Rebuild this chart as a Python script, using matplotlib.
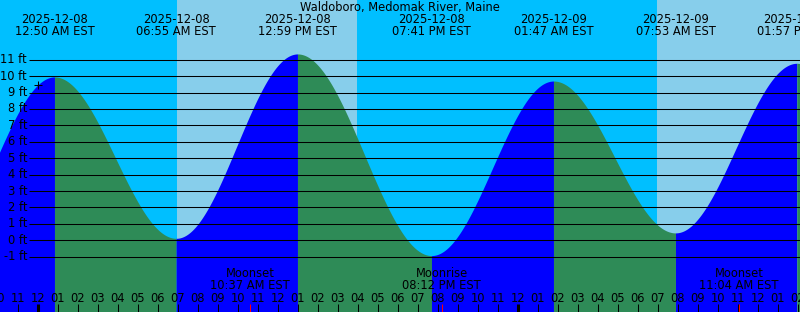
import numpy as np
import pandas as pd
import matplotlib
matplotlib.use("Agg")
import matplotlib.pyplot as plt

# tide events (high/low)
tide_times = ["2025-12-07 18:42", "2025-12-08 00:50", "2025-12-08 06:55", "2025-12-08 12:59",
              "2025-12-08 19:41", "2025-12-09 01:47", "2025-12-09 07:53", "2025-12-09 13:57",
              "2025-12-09 20:05"]
tide_heights = [-1.0, 9.95, 0.12, 11.35, -0.93, 9.7, 0.45, 10.78, 0.0]

sun_rise = ["2025-12-08 06:58", "2025-12-09 06:58"]
sun_set = ["2025-12-08 15:58", "2025-12-09 15:58"]

moon_names = ["Moonset", "Moonrise", "Moonset"]
moon_times = ["2025-12-08 10:37", "2025-12-08 20:12", "2025-12-09 11:04"]

ft_levels = list(range(-1, 12))
title = "Waldoboro, Medomak River, Maine"

start = pd.Timestamp("2025-12-08 00:00")
FS = 8.3


def hours(s):
    return (pd.Timestamp(s) - start) / pd.Timedelta(hours=1)


# pixel helpers (chart is 800x312, 20 px per hour, 16.42 px per ft)
X0, PXH = 37.8, 20.0
Y0, PXF = 240.3, 16.42


def hx(px):
    return (px - X0) / PXH


def fy(py):
    return (Y0 - py) / PXF


fig = plt.figure(figsize=(8, 3.12), dpi=100)
ax = fig.add_axes([0, 0, 1, 1])
ax.set_xlim(hx(0), hx(800))
ax.set_ylim(fy(312), fy(0))
ax.axis("off")

# sky: night / day
ax.axvspan(hx(0), hx(800), color="#00bfff", lw=0, zorder=0)
for r, s in zip(sun_rise, sun_set):
    ax.axvspan(hours(r), hours(s), color="#87ceeb", lw=0, zorder=0)

# tide curve, cosine between highs and lows
th = [hours(t) for t in tide_times]
bottom = fy(312)
for i in range(len(th) - 1):
    t = np.linspace(th[i], th[i + 1], 200)
    a, b = tide_heights[i], tide_heights[i + 1]
    h = a + (b - a) * (1 - np.cos(np.pi * (t - th[i]) / (th[i + 1] - th[i]))) / 2
    col = "#0000ff" if b > a else "#2e8b57"
    ax.fill_between(t, bottom, h, color=col, lw=0, zorder=1, antialiased=False)

# grid lines and labels
ax.hlines(ft_levels, hx(29.3), hx(800), color="black", lw=0.75, zorder=2)
for v in ft_levels:
    ax.text(hx(27), v, f"{v} ft", ha="right", va="center", fontsize=FS, zorder=3)

ax.text(hx(400), fy(7.5), title, ha="center", va="center", fontsize=FS, zorder=3)

# event labels on top
for t in tide_times:
    x = hours(t)
    if hx(0) <= x <= hx(800):
        ts = pd.Timestamp(t)
        ax.text(x, fy(19.5), ts.strftime("%Y-%m-%d"), ha="center", va="center", fontsize=FS, zorder=3)
        ax.text(x, fy(31.5), ts.strftime("%I:%M %p EST"), ha="center", va="center", fontsize=FS, zorder=3)

# hour ticks along the bottom
for hr in range(-2, 40):
    ts = start + pd.Timedelta(hours=hr)
    ax.text(hr, fy(298), ts.strftime("%I"), ha="center", va="center", fontsize=FS, zorder=3)
    if hr % 24 == 0:
        ax.vlines(hr, fy(312), fy(304.3), color="black", lw=2.2, zorder=3)
    else:
        ax.vlines(hr, fy(312), fy(304.3), color="black", lw=0.75, zorder=3)

# moon events
for name, t in zip(moon_names, moon_times):
    x = hours(t)
    ax.text(x, fy(273.7), name, ha="center", va="center", fontsize=FS, zorder=3)
    ax.text(x, fy(285.3), pd.Timestamp(t).strftime("%I:%M %p EST"), ha="center", va="center",
            fontsize=FS, zorder=3)
    ax.vlines(x, fy(312), fy(304.3), color="red", lw=0.75, zorder=3)

# current time marker
ax.plot([0.0], [9.45], marker="+", color="black", ms=6, mew=0.75, zorder=3)

fig.savefig("out.png", dpi=100)
